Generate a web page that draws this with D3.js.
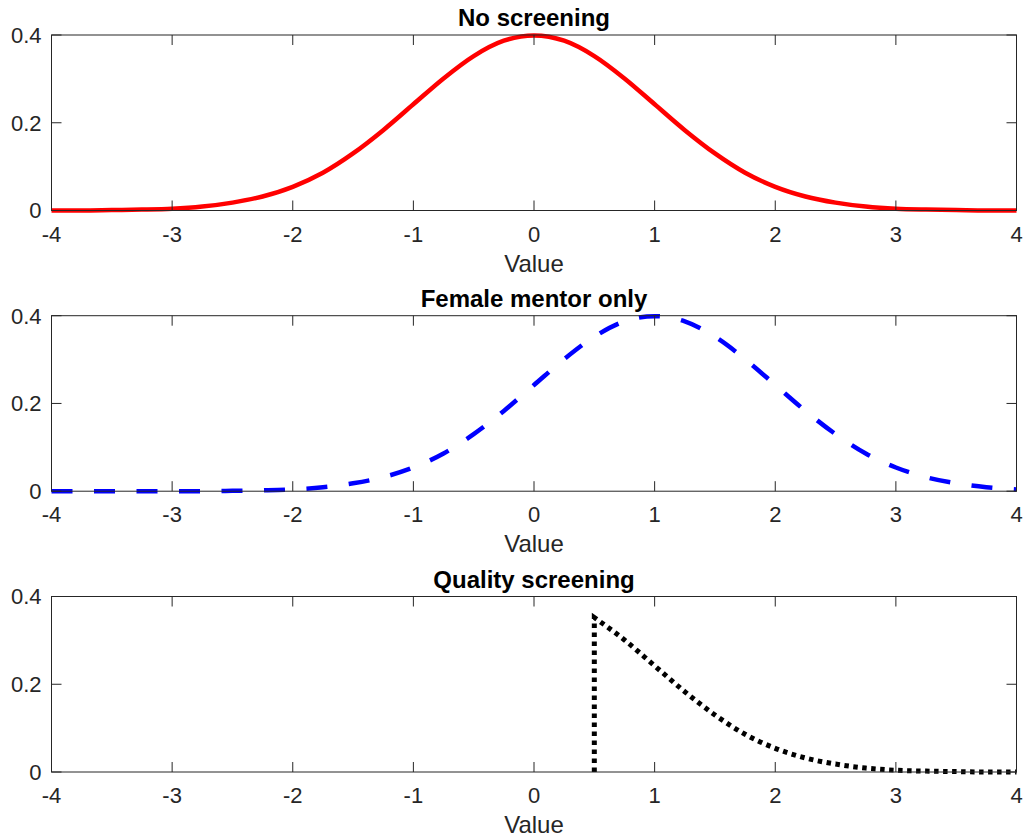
<!DOCTYPE html>
<html>
<head>
<meta charset="utf-8">
<script src="https://cdn.jsdelivr.net/npm/d3@7"></script>
<style>
  body { margin: 0; background: #fff; }
  text { font-family: "Liberation Sans", Arial, Helvetica, sans-serif; fill: #262626; }
</style>
</head>
<body>
<div id="chart"></div>
<script>
const width = 1024, height = 838;

// values
const xValues = [-4, -3.75, -3.5, -3.25, -3, -2.75, -2.5, -2.25, -2, -1.75, -1.5, -1.25, -1, -0.75, -0.5, -0.25,
  0, 0.25, 0.5, 0.75, 1, 1.25, 1.5, 1.75, 2, 2.25, 2.5, 2.75, 3, 3.25, 3.5, 3.75, 4];
const noScreening = [0.000, 0.000, 0.001, 0.002, 0.004, 0.009, 0.018, 0.032, 0.054, 0.086, 0.130, 0.183, 0.242, 0.301, 0.352, 0.387,
  0.399, 0.387, 0.352, 0.301, 0.242, 0.183, 0.130, 0.086, 0.054, 0.032, 0.018, 0.009, 0.004, 0.002, 0.001, 0.000, 0.000];
const femaleMentor = [0.000, 0.000, 0.000, 0.000, 0.000, 0.000, 0.001, 0.002, 0.004, 0.009, 0.018, 0.032, 0.054, 0.086, 0.130, 0.183,
  0.242, 0.301, 0.352, 0.387, 0.399, 0.387, 0.352, 0.301, 0.242, 0.183, 0.130, 0.086, 0.054, 0.032, 0.018, 0.009, 0.004];
// quality screening: cut at 0.5, then the tail
const qualityX = [0.5, 0.75, 1, 1.25, 1.5, 1.75, 2, 2.25, 2.5, 2.75, 3, 3.25, 3.5, 3.75, 4];
const qualityY = [0.352, 0.301, 0.242, 0.183, 0.130, 0.086, 0.054, 0.032, 0.018, 0.009, 0.004, 0.002, 0.001, 0.000, 0.000];
const cutoff = 0.5;

const titles = ["No screening", "Female mentor only", "Quality screening"];
const xTicks = [-4, -3, -2, -1, 0, 1, 2, 3, 4];
const yTicks = [0, 0.2, 0.4];

const left = 51.5, right = 1016.5;
const panelTops = [35, 315.7, 596.5];
const panelH = 175.5;
const tickLen = 10;

const svg = d3.select("#chart").append("svg")
  .attr("width", width)
  .attr("height", height);

const x = d3.scaleLinear().domain([-4, 4]).range([left, right]);

function drawPanel(i, drawCurve) {
  const top = panelTops[i], bottom = top + panelH;
  const y = d3.scaleLinear().domain([0, 0.4]).range([bottom, top]);
  const g = svg.append("g");

  // curve first, axes box on top like matlab
  drawCurve(g, y);

  const axisColor = "#262626";
  g.append("rect")
    .attr("x", left).attr("y", top)
    .attr("width", right - left).attr("height", panelH)
    .attr("fill", "none").attr("stroke", axisColor).attr("stroke-width", 1);

  // ticks point inward on all four sides
  g.selectAll(".xt").data(xTicks).enter().append("path")
    .attr("d", d => `M${x(d)},${bottom}v${-tickLen}M${x(d)},${top}v${tickLen}`)
    .attr("stroke", axisColor).attr("stroke-width", 1);
  g.selectAll(".yt").data(yTicks).enter().append("path")
    .attr("d", d => `M${left},${y(d)}h${tickLen}M${right},${y(d)}h${-tickLen}`)
    .attr("stroke", axisColor).attr("stroke-width", 1);

  g.selectAll(".xl").data(xTicks).enter().append("text")
    .attr("x", d => x(d)).attr("y", bottom + 31)
    .attr("text-anchor", "middle")
    .style("font-size", "22px")
    .text(d => d);
  g.selectAll(".yl").data(yTicks).enter().append("text")
    .attr("x", left - 10).attr("y", d => y(d))
    .attr("dy", "0.36em")
    .attr("text-anchor", "end")
    .style("font-size", "22px")
    .text(d => d);

  g.append("text")
    .attr("x", (left + right) / 2).attr("y", bottom + 61)
    .attr("text-anchor", "middle")
    .style("font-size", "24px")
    .text("Value");
  g.append("text")
    .attr("x", (left + right) / 2).attr("y", top - 9)
    .attr("text-anchor", "middle")
    .style("font-size", "24px")
    .style("font-weight", "bold")
    .style("fill", "#000")
    .text(titles[i]);
}

drawPanel(0, (g, y) => {
  const line = d3.line().x(d => x(d[0])).y(d => y(d[1])).curve(d3.curveMonotoneX);
  g.append("path")
    .datum(xValues.map((v, k) => [v, noScreening[k]]))
    .attr("d", line)
    .attr("fill", "none")
    .attr("stroke", "#ff0000")
    .attr("stroke-width", 4.5);
});

drawPanel(1, (g, y) => {
  const line = d3.line().x(d => x(d[0])).y(d => y(d[1])).curve(d3.curveMonotoneX);
  g.append("path")
    .datum(xValues.map((v, k) => [v, femaleMentor[k]]))
    .attr("d", line)
    .attr("fill", "none")
    .attr("stroke", "#0000ff")
    .attr("stroke-width", 4.5)
    .attr("stroke-dasharray", "21,21.5");
});

drawPanel(2, (g, y) => {
  const drop = d3.line().x(d => x(d[0])).y(d => y(d[1]));
  const tail = d3.line().x(d => x(d[0])).y(d => y(d[1])).curve(d3.curveMonotoneX);
  const tailPts = qualityX.map((v, k) => [v, qualityY[k]]);
  const d = drop([[cutoff, 0], [cutoff, qualityY[0]]]) + tail(tailPts).replace(/^M[^CL]*/, "");
  g.append("path")
    .attr("d", d)
    .attr("fill", "none")
    .attr("stroke", "#000")
    .attr("stroke-width", 5)
    .attr("stroke-dasharray", "4.5,4.5");
});
</script>
</body>
</html>
